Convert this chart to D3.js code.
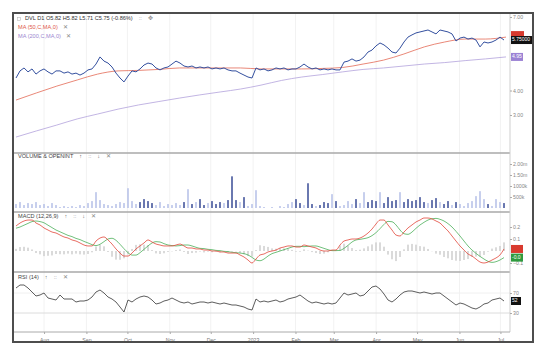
<!DOCTYPE html>
<html>
<head>
<meta charset="utf-8">
<script src="https://cdn.jsdelivr.net/npm/d3@7"></script>
<style>
  body { margin: 0; background: #fff; }
  svg { display: block; font-family: "Liberation Sans", Arial, sans-serif; }
</style>
</head>
<body>
<div id="chart"></div>
<script>
// daily closes (roughly one every 2 sessions)
const price = [4.51,4.80,4.92,4.76,4.88,4.67,4.80,4.88,4.76,4.67,
  4.80,4.80,4.71,4.76,4.67,4.71,4.63,4.71,4.84,4.88,
  5.08,5.37,5.20,5.12,4.96,4.71,4.51,4.35,4.59,4.80,
  4.76,4.88,5.04,5.12,5.08,4.92,4.84,4.92,4.96,5.08,
  5.20,5.12,5.00,4.96,5.00,4.92,4.96,4.92,4.96,4.88,
  4.92,4.88,4.92,4.84,4.80,4.80,4.71,4.63,4.55,4.51,
  4.92,4.84,4.88,4.80,4.84,4.92,4.88,4.92,4.84,4.88,
  4.88,4.96,5.08,4.96,4.88,4.92,4.84,4.88,4.84,4.88,
  4.84,4.84,5.16,5.20,5.29,5.20,5.24,5.37,5.57,5.65,
  5.82,5.94,5.86,5.73,5.57,5.53,5.73,5.98,6.18,6.27,
  6.35,6.39,6.43,6.47,6.39,6.31,6.47,6.43,6.39,6.31,
  6.02,6.14,6.18,6.10,6.14,6.06,5.78,5.98,5.94,5.98,
  6.06,6.18,6.06];

const ma50 = [3.61,3.90,4.18,4.43,4.67,4.80,4.82,4.86,4.92,4.92,4.92,4.92,4.88,
  4.88,4.88,4.90,4.94,5.08,5.24,5.49,5.78,5.98,6.10,6.10,6.18];
const ma200 = [2.10,2.35,2.59,2.84,3.04,3.24,3.41,3.55,3.69,3.82,3.94,4.06,4.22,
  4.41,4.55,4.65,4.76,4.86,4.92,5.00,5.08,5.14,5.22,5.29,5.37];

// volume in thousands
const volume = [180,270,135,225,180,270,135,180,90,225,
  135,45,90,45,90,45,135,90,225,315,
  720,360,180,135,90,180,270,225,900,315,
  180,270,405,315,225,135,270,90,180,135,
  225,135,270,855,180,270,405,135,225,315,
  180,270,225,360,1440,360,270,495,90,180,
  810,90,45,0,45,0,90,45,180,270,
  405,225,135,1125,180,90,135,270,225,630,
  315,90,135,315,180,405,225,720,270,360,
  315,720,225,495,315,360,720,270,405,315,
  360,495,270,225,360,450,270,180,315,135,
  270,180,90,225,315,540,765,405,180,90,
  405,270,225];
const volDark = [0,0,0,0,0,0,0,0,0,0, 0,0,0,0,0,0,0,0,0,0, 0,0,0,0,0,0,0,0,0,0,
  0,1,1,1,1,0,0,0,0,0, 0,0,1,0,1,0,1,1,0,1, 1,1,0,1,1,1,0,1,0,0,
  0,0,0,0,0,0,0,0,0,0, 1,1,0,1,1,0,1,1,1,0, 1,0,0,0,0,1,0,0,1,1,
  1,0,1,1,1,1,0,1,1,1, 1,1,1,0,1,1,0,1,1,0, 1,0,0,0,0,0,0,0,1,0,
  0,0,1];

const macd = [0.208,0.233,0.25,0.258,0.258,0.233,0.217,0.192,0.175,0.158,
  0.15,0.133,0.117,0.108,0.092,0.083,0.067,0.05,0.042,0.042,
  0.083,0.108,0.117,0.092,0.058,0.017,-0.017,-0.042,-0.042,-0.017,
  0.017,0.042,0.067,0.092,0.075,0.058,0.05,0.042,0.042,0.042,
  0.05,0.058,0.042,0.025,0.025,0.017,0.017,0.008,0.008,0,
  0,-0.008,-0.008,-0.017,-0.017,-0.017,-0.033,-0.05,-0.075,-0.1,
  -0.067,-0.033,-0.025,-0.008,0,0.008,0.025,0.033,0.042,0.042,
  0.033,0.033,0.05,0.042,0.033,0.025,0.008,0,0,0.008,
  0.008,0.05,0.083,0.092,0.1,0.1,0.108,0.125,0.15,0.183,
  0.225,0.258,0.258,0.217,0.175,0.133,0.125,0.158,0.192,0.217,
  0.242,0.258,0.275,0.275,0.267,0.25,0.233,0.2,0.167,0.125,
  0.083,0.042,0.008,-0.025,-0.042,-0.067,-0.092,-0.1,-0.092,-0.075,
  -0.058,-0.033,0.017];
const signal = [0.19,0.2,0.215,0.23,0.245,0.25,0.245,0.235,0.215,0.195,
  0.175,0.16,0.145,0.13,0.12,0.105,0.095,0.08,0.067,0.053,
  0.045,0.056,0.078,0.1,0.106,0.089,0.056,0.019,-0.014,-0.034,
  -0.034,-0.014,0.014,0.042,0.067,0.078,0.075,0.061,0.05,0.045,
  0.042,0.045,0.05,0.05,0.042,0.031,0.022,0.02,0.014,0.011,
  0.005,0.003,-0.003,-0.005,-0.011,-0.014,-0.017,-0.022,-0.033,-0.053,
  -0.075,-0.081,-0.067,-0.042,-0.022,-0.011,0,0.011,0.022,0.033,
  0.039,0.039,0.036,0.039,0.042,0.042,0.033,0.022,0.011,0.003,
  0.003,0.005,0.022,0.047,0.075,0.092,0.097,0.103,0.111,0.128,
  0.153,0.186,0.222,0.247,0.244,0.217,0.175,0.144,0.139,0.158,
  0.189,0.217,0.239,0.258,0.269,0.272,0.264,0.25,0.228,0.2,
  0.164,0.125,0.083,0.042,0.008,-0.02,-0.045,-0.067,-0.086,-0.095,
  -0.089,-0.075,-0.055];

const rsi = [80,86,86,80,72,64,66,70,60,58,
  56,66,58,58,58,52,54,54,56,62,
  72,76,70,62,58,52,42,32,56,52,
  58,62,64,62,56,48,50,54,56,60,
  56,52,50,52,48,50,52,52,50,52,
  50,48,50,48,46,46,44,42,38,36,
  58,52,54,52,54,56,52,54,58,60,
  62,66,60,54,50,52,50,48,50,48,
  50,60,70,66,68,70,64,66,74,82,
  84,78,68,56,52,58,66,72,74,74,
  72,70,72,70,68,70,70,64,58,52,
  46,50,48,44,40,38,42,48,50,56,
  58,60,54];

const priceTicks = [7, 4, 3];
const volTicks = [500, 1000, 1500, 2000];
const volTickLabels = ["500k", "1000k", "1.50m", "2.00m"];
const macdTicks = [0.2, 0.1, -0.1];
const rsiTicks = [70, 30];
const dateRange = [new Date(2022, 6, 10), new Date(2023, 6, 8)];

const lastLabels = { close: "5.75000", ma200: "4.95", macd: "", signal: "-0.0", rsi: "52" };

const W = 536, H = 353;
const plotL = 14, plotR = 510, axisY = 332;

const svg = d3.select("#chart").append("svg")
    .attr("width", W)
    .attr("height", H);

svg.append("rect").attr("width", W).attr("height", H).attr("fill", "#fff");

// scales
const xi = d3.scaleLinear().domain([0, price.length - 1]).range([16, 504]);
const xm = d3.scaleLinear().domain([0, ma50.length - 1]).range([16, 506]);
const xt = d3.scaleTime().domain(dateRange).range([plotL, plotR]);

const yPrice = d3.scaleLinear().domain([3, 7]).range([115, 17]);
const yVol = d3.scaleLinear().domain([0, 2000]).range([208, 164]);
const yMacd = d3.scaleLinear().domain([-0.1, 0.2]).range([263, 227]);
const yRsi = d3.scaleLinear().domain([0, 100]).range([328, 278]);

// faint month grid
const months = xt.ticks(d3.timeMonth.every(1));
svg.append("g").selectAll("line")
    .data(months)
    .enter().append("line")
    .attr("x1", d => xt(d)).attr("x2", d => xt(d))
    .attr("y1", 14).attr("y2", axisY)
    .attr("stroke", "#f2f2f2");

// rsi guide lines
svg.append("g").selectAll("line")
    .data(rsiTicks)
    .enter().append("line")
    .attr("x1", plotL).attr("x2", plotR)
    .attr("y1", d => yRsi(d)).attr("y2", d => yRsi(d))
    .attr("stroke", d => d == 30 ? "#dcdcdc" : "#f0f0f0");

// panel separators
svg.append("g").selectAll("line")
    .data([153, 212, 272])
    .enter().append("line")
    .attr("x1", plotL).attr("x2", plotR)
    .attr("y1", d => d).attr("y2", d => d)
    .attr("stroke", "#a8a8a8")
    .attr("stroke-width", 1.3);

svg.append("line")
    .attr("x1", plotR).attr("x2", plotR)
    .attr("y1", 14).attr("y2", axisY)
    .attr("stroke", "#cfcfcf");

// ---- price panel
svg.append("path")
    .datum(ma200)
    .attr("fill", "none")
    .attr("stroke", "#b3a2dc")
    .attr("stroke-width", 0.8)
    .attr("d", d3.line().x((d, i) => xm(i)).y(d => yPrice(d)).curve(d3.curveMonotoneX));

svg.append("path")
    .datum(ma50)
    .attr("fill", "none")
    .attr("stroke", "#e36a55")
    .attr("stroke-width", 0.8)
    .attr("d", d3.line().x((d, i) => xm(i)).y(d => yPrice(d)).curve(d3.curveMonotoneX));

svg.append("path")
    .datum(price)
    .attr("fill", "none")
    .attr("stroke", "#34509f")
    .attr("stroke-width", 1)
    .attr("d", d3.line().x((d, i) => xi(i)).y(d => yPrice(d)));

// ---- volume panel
svg.append("g").selectAll("rect")
    .data(volume)
    .enter().append("rect")
    .attr("x", (d, i) => xi(i) - 0.7)
    .attr("width", 1.4)
    .attr("y", d => yVol(d))
    .attr("height", d => yVol(0) - yVol(d))
    .attr("fill", (d, i) => volDark[i] ? "#2c3f8f" : "#b0bbe6");

// ---- macd panel
svg.append("g").selectAll("rect")
    .data(macd)
    .enter().append("rect")
    .attr("x", (d, i) => xi(i) - 0.8)
    .attr("width", 1.6)
    .attr("y", (d, i) => Math.min(yMacd(0), yMacd(d - signal[i])))
    .attr("height", (d, i) => Math.abs(yMacd(d - signal[i]) - yMacd(0)))
    .attr("fill", "#d2d2d2");

svg.append("path")
    .datum(signal)
    .attr("fill", "none")
    .attr("stroke", "#4db05a")
    .attr("stroke-width", 0.8)
    .attr("d", d3.line().x((d, i) => xi(i)).y(d => yMacd(d)).curve(d3.curveMonotoneX));

svg.append("path")
    .datum(macd)
    .attr("fill", "none")
    .attr("stroke", "#e2483b")
    .attr("stroke-width", 0.8)
    .attr("d", d3.line().x((d, i) => xi(i)).y(d => yMacd(d)).curve(d3.curveMonotoneX));

// ---- rsi panel
svg.append("path")
    .datum(rsi)
    .attr("fill", "none")
    .attr("stroke", "#333")
    .attr("stroke-width", 0.8)
    .attr("d", d3.line().x((d, i) => xi(i)).y(d => yRsi(d)));

// ---- right axes
function rightAxis(scale, values, fmt) {
    let g = svg.append("g")
        .attr("transform", `translate(${plotR},0)`)
        .call(d3.axisRight(scale).tickValues(values).tickSize(2).tickFormat(fmt));
    g.select(".domain").remove();
    g.selectAll("line").attr("stroke", "#aaa");
    g.selectAll("text").attr("x", 3).attr("fill", "#888").attr("font-size", 5.2);
    return g;
}
rightAxis(yPrice, priceTicks, d3.format(".2f"));
rightAxis(yVol, volTicks, (d, i) => volTickLabels[i]);
rightAxis(yMacd, macdTicks, d3.format(".1f"));
rightAxis(yRsi, rsiTicks, d3.format("d"));

// last value boxes
function valueBox(y, w, fill, text) {
    svg.append("rect")
        .attr("x", plotR + 1).attr("y", y - 4)
        .attr("width", w).attr("height", 8)
        .attr("fill", fill);
    svg.append("text")
        .attr("x", plotR + 2).attr("y", y)
        .attr("dominant-baseline", "middle")
        .attr("fill", "#fff")
        .attr("font-size", 5)
        .text(text);
}
valueBox(yPrice(ma50[ma50.length - 1]) - 2, 13, "#d83a2e", "");
valueBox(yPrice(price[price.length - 1]), 22, "#111", lastLabels.close);
valueBox(yPrice(ma200[ma200.length - 1]), 12, "#9b82d4", lastLabels.ma200);
valueBox(yMacd(macd[macd.length - 1]), 12, "#d83a2e", lastLabels.macd);
valueBox(yMacd(signal[signal.length - 1]), 12, "#2e9a3e", lastLabels.signal);
valueBox(yRsi(rsi[rsi.length - 1]), 10, "#111", lastLabels.rsi);

// ---- bottom time axis
let xAxisG = svg.append("g")
    .attr("transform", `translate(0,${axisY})`)
    .call(d3.axisBottom(xt)
        .ticks(d3.timeMonth.every(1))
        .tickSize(2)
        .tickFormat(d => d.getMonth() === 0 ? d3.timeFormat("%Y")(d) : d3.timeFormat("%b")(d)));
xAxisG.select(".domain").attr("stroke", "#aaa").attr("d", `M${plotL},0H${plotR}`);
xAxisG.selectAll("line").attr("stroke", "#aaa");
xAxisG.selectAll("text").attr("fill", "#777").attr("font-size", 5.2).attr("dy", "0.9em");

// ---- panel titles
function title(y, parts) {
    let t = svg.append("text")
        .attr("x", 18).attr("y", y)
        .attr("dominant-baseline", "middle")
        .attr("font-size", 5.6);
    parts.forEach(p => {
        t.append("tspan").attr("fill", p[1]).attr("dx", p[2] || 0).text(p[0]);
    });
}
svg.append("rect")
    .attr("x", 17.5).attr("y", 17.5).attr("width", 3).attr("height", 3)
    .attr("fill", "none").attr("stroke", "#bbb").attr("stroke-width", 0.6);
svg.append("text")
    .attr("x", 25).attr("y", 19)
    .attr("dominant-baseline", "middle")
    .attr("font-size", 5.6)
    .call(t => {
        t.append("tspan").attr("fill", "#333").text("DVL D1 O5.82 H5.82 L5.71 C5.75 (-0.86%)");
        t.append("tspan").attr("fill", "#888").attr("dx", 6).text("::");
        t.append("tspan").attr("fill", "#888").attr("dx", 6).text("✥");
    });
title(28, [["MA (50,C,MA,0)", "#e0584a"], ["✕", "#888", 5]]);
title(37, [["MA (200,C,MA,0)", "#9c87d0"], ["✕", "#888", 5]]);
title(157, [["VOLUME & OPENINT", "#444"], ["↑", "#666", 6], ["::", "#888", 6], ["↓", "#666", 6], ["✕", "#888", 6]]);
title(217, [["MACD (12,26,9)", "#444"], ["↑", "#666", 6], ["::", "#888", 6], ["↓", "#666", 6], ["✕", "#888", 6]]);
title(278, [["RSI (14)", "#444"], ["↑", "#666", 6], ["::", "#888", 6], ["✕", "#888", 6]]);

// outer frame
svg.append("rect")
    .attr("x", 13).attr("y", 13)
    .attr("width", 520).attr("height", 329)
    .attr("fill", "none")
    .attr("stroke", "#4d4d4d")
    .attr("stroke-width", 2);
</script>
</body>
</html>
